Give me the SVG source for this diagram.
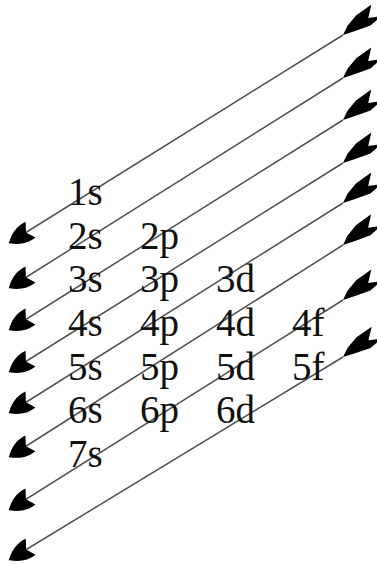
<svg xmlns="http://www.w3.org/2000/svg" width="377" height="564" viewBox="0 0 377 564">
<style>
.lbl{font-family:"Liberation Serif","Times New Roman",serif;font-size:39px;fill:#111}
.ln{fill:none;stroke:#505050;stroke-width:1.5;marker-start:url(#tail);marker-end:url(#head)}
</style>
<defs>
<marker id="head" markerUnits="userSpaceOnUse" orient="auto" markerWidth="40" markerHeight="40" viewBox="-25 -12 30 24" refX="0" refY="0">
<path d="M0,0 C-5,-5 -12,-8 -19,-7 L-15,0 L-19,7 C-12,8 -5,5 0,0 Z" fill="#000"/>
</marker>
<marker id="tail" markerUnits="userSpaceOnUse" orient="auto" markerWidth="50" markerHeight="40" viewBox="-42 -14 46 28" refX="0" refY="0">
<path d="M0,0 L-8,5 L-20,9 L-37,10 L-28,1 L-39,-4 L-26,-6 L-12,-3 Z" fill="#000"/>
</marker>
</defs>
<g id="connectors">
<path class="ln" d="M343,35 L9,243"/>
<path class="ln" d="M343,78 L9,288"/>
<path class="ln" d="M343,120 L9,330"/>
<path class="ln" d="M343,163 L9,372"/>
<path class="ln" d="M343,203 L9,413"/>
<path class="ln" d="M343,245 L9,457"/>
<path class="ln" d="M343,300 L9,510"/>
<path class="ln" d="M343,357 L9,560"/>
</g>
<g id="n1s"><text class="lbl" x="68" y="205">1s</text></g>
<g id="n2s"><text class="lbl" x="68" y="249">2s</text></g>
<g id="n2p"><text class="lbl" x="140" y="249">2p</text></g>
<g id="n3s"><text class="lbl" x="68" y="292">3s</text></g>
<g id="n3p"><text class="lbl" x="140" y="292">3p</text></g>
<g id="n3d"><text class="lbl" x="216" y="292">3d</text></g>
<g id="n4s"><text class="lbl" x="68" y="336">4s</text></g>
<g id="n4p"><text class="lbl" x="140" y="336">4p</text></g>
<g id="n4d"><text class="lbl" x="216" y="336">4d</text></g>
<g id="n4f"><text class="lbl" x="292" y="336">4f</text></g>
<g id="n5s"><text class="lbl" x="68" y="380">5s</text></g>
<g id="n5p"><text class="lbl" x="140" y="380">5p</text></g>
<g id="n5d"><text class="lbl" x="216" y="380">5d</text></g>
<g id="n5f"><text class="lbl" x="292" y="380">5f</text></g>
<g id="n6s"><text class="lbl" x="68" y="423">6s</text></g>
<g id="n6p"><text class="lbl" x="140" y="423">6p</text></g>
<g id="n6d"><text class="lbl" x="216" y="423">6d</text></g>
<g id="n7s"><text class="lbl" x="68" y="467">7s</text></g>
</svg>
